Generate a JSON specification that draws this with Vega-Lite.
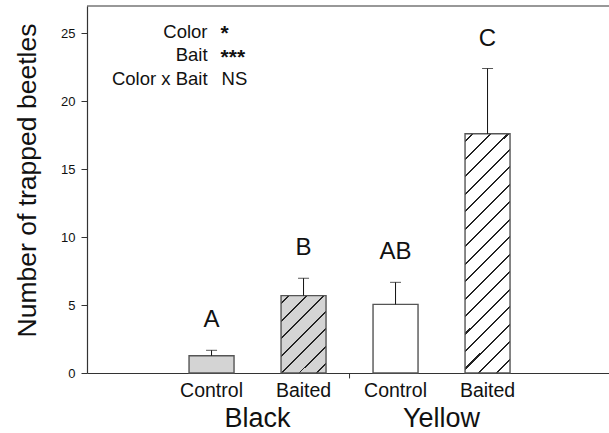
{
  "$schema": "https://vega.github.io/schema/vega-lite/v6.json",
  "width": 522,
  "height": 367,
  "autosize": {"type": "none"},
  "padding": {"left": 87, "top": 6, "right": 0, "bottom": 60},
  "background": "white",
  "config": {"view": {"stroke": null}, "font": "Liberation Sans"},
  "data": {"values": [
    {"color": "Black", "bait": "Control", "mean": 1.27, "upper": 1.67, "letter": "A"},
    {"color": "Black", "bait": "Baited", "mean": 5.69, "upper": 6.97, "letter": "B"},
    {"color": "Yellow", "bait": "Control", "mean": 5.05, "upper": 6.67, "letter": "AB"},
    {"color": "Yellow", "bait": "Baited", "mean": 17.6, "upper": 22.4, "letter": "C"}
  ]},
  "layer": [
    {
      "mark": {"type": "bar", "stroke": "#555555", "strokeWidth": 1.4},
      "encoding": {
        "x": {"field": "color", "type": "nominal",
          "scale": {"domain": ["Black", "Yellow"], "paddingInner": 0, "paddingOuter": 0.4185, "align": 0.51},
          "axis": {"title": null, "ticks": false, "labelAngle": 0, "labelFontSize": 27, "labelPadding": 32, "labelColor": "#111111", "domainColor": "#333333", "domainWidth": 1.2}},
        "xOffset": {"field": "bait", "type": "nominal",
          "scale": {"domain": ["Control", "Baited"], "paddingInner": 0.5109, "paddingOuter": 0.2554}},
        "y": {"field": "mean", "type": "quantitative",
          "scale": {"domain": [0, 27], "nice": false, "zero": true},
          "axis": {"title": "Number of trapped beetles", "values": [0, 5, 10, 15, 20, 25], "grid": false, "tickSize": 6, "labelPadding": 6, "labelFontSize": 13, "titleFontSize": 26.5, "titleFontWeight": "normal", "titlePadding": 19, "titleY": 174, "domainColor": "#333333", "domainWidth": 1.2, "tickColor": "#333333", "labelColor": "#111111", "titleColor": "#111111"}},
        "fill": {
          "condition": [
            {"test": "datum.color === 'Black' && datum.bait === 'Control'", "value": "#d4d4d4"},
            {"test": "datum.color === 'Black' && datum.bait === 'Baited'", "value": {
              "gradient": "linear", "x1": 0, "y1": 0, "x2": 0.6866, "y2": 1.182,
              "stops": [
                {"offset": 0, "color": "#d4d4d4"},
                {"offset": 0.0580, "color": "#d4d4d4"}, {"offset": 0.0580, "color": "#222222"}, {"offset": 0.0730, "color": "#222222"}, {"offset": 0.0730, "color": "#d4d4d4"},
                {"offset": 0.2009, "color": "#d4d4d4"}, {"offset": 0.2009, "color": "#222222"}, {"offset": 0.2159, "color": "#222222"}, {"offset": 0.2159, "color": "#d4d4d4"},
                {"offset": 0.3437, "color": "#d4d4d4"}, {"offset": 0.3437, "color": "#222222"}, {"offset": 0.3587, "color": "#222222"}, {"offset": 0.3587, "color": "#d4d4d4"},
                {"offset": 0.4866, "color": "#d4d4d4"}, {"offset": 0.4866, "color": "#222222"}, {"offset": 0.5016, "color": "#222222"}, {"offset": 0.5016, "color": "#d4d4d4"},
                {"offset": 0.6294, "color": "#d4d4d4"}, {"offset": 0.6294, "color": "#222222"}, {"offset": 0.6444, "color": "#222222"}, {"offset": 0.6444, "color": "#d4d4d4"},
                {"offset": 0.7723, "color": "#d4d4d4"}, {"offset": 0.7723, "color": "#222222"}, {"offset": 0.7873, "color": "#222222"}, {"offset": 0.7873, "color": "#d4d4d4"},
                {"offset": 0.9151, "color": "#d4d4d4"}, {"offset": 0.9151, "color": "#222222"}, {"offset": 0.9301, "color": "#222222"}, {"offset": 0.9301, "color": "#d4d4d4"},
                {"offset": 1, "color": "#d4d4d4"}
              ]}},
            {"test": "datum.color === 'Yellow' && datum.bait === 'Baited'", "value": {
              "gradient": "linear", "x1": 0, "y1": 0, "x2": 0.2153, "y2": 1.1473,
              "stops": [
                {"offset": 0, "color": "#ffffff"},
                {"offset": 0.0242, "color": "#ffffff"}, {"offset": 0.0242, "color": "#222222"}, {"offset": 0.0322, "color": "#222222"}, {"offset": 0.0322, "color": "#ffffff"},
                {"offset": 0.0857, "color": "#ffffff"}, {"offset": 0.0857, "color": "#222222"}, {"offset": 0.0937, "color": "#222222"}, {"offset": 0.0937, "color": "#ffffff"},
                {"offset": 0.1472, "color": "#ffffff"}, {"offset": 0.1472, "color": "#222222"}, {"offset": 0.1552, "color": "#222222"}, {"offset": 0.1552, "color": "#ffffff"},
                {"offset": 0.2088, "color": "#ffffff"}, {"offset": 0.2088, "color": "#222222"}, {"offset": 0.2168, "color": "#222222"}, {"offset": 0.2168, "color": "#ffffff"},
                {"offset": 0.2703, "color": "#ffffff"}, {"offset": 0.2703, "color": "#222222"}, {"offset": 0.2783, "color": "#222222"}, {"offset": 0.2783, "color": "#ffffff"},
                {"offset": 0.3318, "color": "#ffffff"}, {"offset": 0.3318, "color": "#222222"}, {"offset": 0.3398, "color": "#222222"}, {"offset": 0.3398, "color": "#ffffff"},
                {"offset": 0.3934, "color": "#ffffff"}, {"offset": 0.3934, "color": "#222222"}, {"offset": 0.4014, "color": "#222222"}, {"offset": 0.4014, "color": "#ffffff"},
                {"offset": 0.4549, "color": "#ffffff"}, {"offset": 0.4549, "color": "#222222"}, {"offset": 0.4629, "color": "#222222"}, {"offset": 0.4629, "color": "#ffffff"},
                {"offset": 0.5164, "color": "#ffffff"}, {"offset": 0.5164, "color": "#222222"}, {"offset": 0.5244, "color": "#222222"}, {"offset": 0.5244, "color": "#ffffff"},
                {"offset": 0.5780, "color": "#ffffff"}, {"offset": 0.5780, "color": "#222222"}, {"offset": 0.5860, "color": "#222222"}, {"offset": 0.5860, "color": "#ffffff"},
                {"offset": 0.6395, "color": "#ffffff"}, {"offset": 0.6395, "color": "#222222"}, {"offset": 0.6475, "color": "#222222"}, {"offset": 0.6475, "color": "#ffffff"},
                {"offset": 0.7010, "color": "#ffffff"}, {"offset": 0.7010, "color": "#222222"}, {"offset": 0.7090, "color": "#222222"}, {"offset": 0.7090, "color": "#ffffff"},
                {"offset": 0.7626, "color": "#ffffff"}, {"offset": 0.7626, "color": "#222222"}, {"offset": 0.7706, "color": "#222222"}, {"offset": 0.7706, "color": "#ffffff"},
                {"offset": 0.8241, "color": "#ffffff"}, {"offset": 0.8241, "color": "#222222"}, {"offset": 0.8321, "color": "#222222"}, {"offset": 0.8321, "color": "#ffffff"},
                {"offset": 0.8856, "color": "#ffffff"}, {"offset": 0.8856, "color": "#222222"}, {"offset": 0.8936, "color": "#222222"}, {"offset": 0.8936, "color": "#ffffff"},
                {"offset": 0.9472, "color": "#ffffff"}, {"offset": 0.9472, "color": "#222222"}, {"offset": 0.9552, "color": "#222222"}, {"offset": 0.9552, "color": "#ffffff"},
                {"offset": 1, "color": "#ffffff"}
              ]}}
          ],
          "value": "#ffffff"
        }
      }
    },
    {
      "mark": {"type": "rule", "color": "#111111", "strokeWidth": 1},
      "encoding": {
        "x": {"field": "color", "type": "nominal"},
        "xOffset": {"field": "bait", "type": "nominal"},
        "y": {"field": "mean", "type": "quantitative"},
        "y2": {"field": "upper"}
      }
    },
    {
      "mark": {"type": "tick", "color": "#111111", "thickness": 1, "size": 11},
      "encoding": {
        "x": {"field": "color", "type": "nominal"},
        "xOffset": {"field": "bait", "type": "nominal"},
        "y": {"field": "upper", "type": "quantitative"}
      }
    },
    {
      "mark": {"type": "text", "fontSize": 24, "color": "#111111", "baseline": "alphabetic", "dy": -23},
      "encoding": {
        "x": {"field": "color", "type": "nominal"},
        "xOffset": {"field": "bait", "type": "nominal"},
        "y": {"field": "upper", "type": "quantitative"},
        "text": {"field": "letter"}
      }
    },
    {
      "mark": {"type": "text", "fontSize": 19.5, "color": "#111111", "baseline": "alphabetic", "dy": 24},
      "encoding": {
        "x": {"field": "color", "type": "nominal"},
        "xOffset": {"field": "bait", "type": "nominal"},
        "y": {"datum": 0},
        "text": {"field": "bait"}
      }
    },
    {
      "data": {"values": [{}]},
      "mark": {"type": "rule", "color": "#333333", "strokeWidth": 1.2},
      "encoding": {"y": {"datum": 27}}
    },
    {
      "data": {"values": [{}]},
      "mark": {"type": "rule", "color": "#333333", "strokeWidth": 1},
      "encoding": {
        "x": {"datum": "Yellow", "bandPosition": 0},
        "y": {"datum": 0},
        "y2": {"datum": -0.4}
      }
    },
    {
      "data": {"values": [{}]},
      "mark": {"type": "text", "fontSize": 18.5, "color": "#111111", "align": "right", "baseline": "alphabetic", "dx": -4, "lineHeight": 23.8},
      "encoding": {
        "x": {"datum": "Black"},
        "xOffset": {"datum": "Control"},
        "y": {"datum": 24.68},
        "text": {"value": ["Color", "Bait", "Color x Bait"]}
      }
    },
    {
      "data": {"values": [{}]},
      "mark": {"type": "text", "fontSize": 21, "fontWeight": "bold", "color": "#111111", "align": "left", "baseline": "alphabetic", "dx": 9, "lineHeight": 23.8},
      "encoding": {
        "x": {"datum": "Black"},
        "xOffset": {"datum": "Control"},
        "y": {"datum": 24.5},
        "text": {"value": ["*", "***"]}
      }
    },
    {
      "data": {"values": [{}]},
      "mark": {"type": "text", "fontSize": 18.5, "color": "#111111", "align": "left", "baseline": "alphabetic", "dx": 10},
      "encoding": {
        "x": {"datum": "Black"},
        "xOffset": {"datum": "Control"},
        "y": {"datum": 21.18},
        "text": {"value": "NS"}
      }
    }
  ]
}
